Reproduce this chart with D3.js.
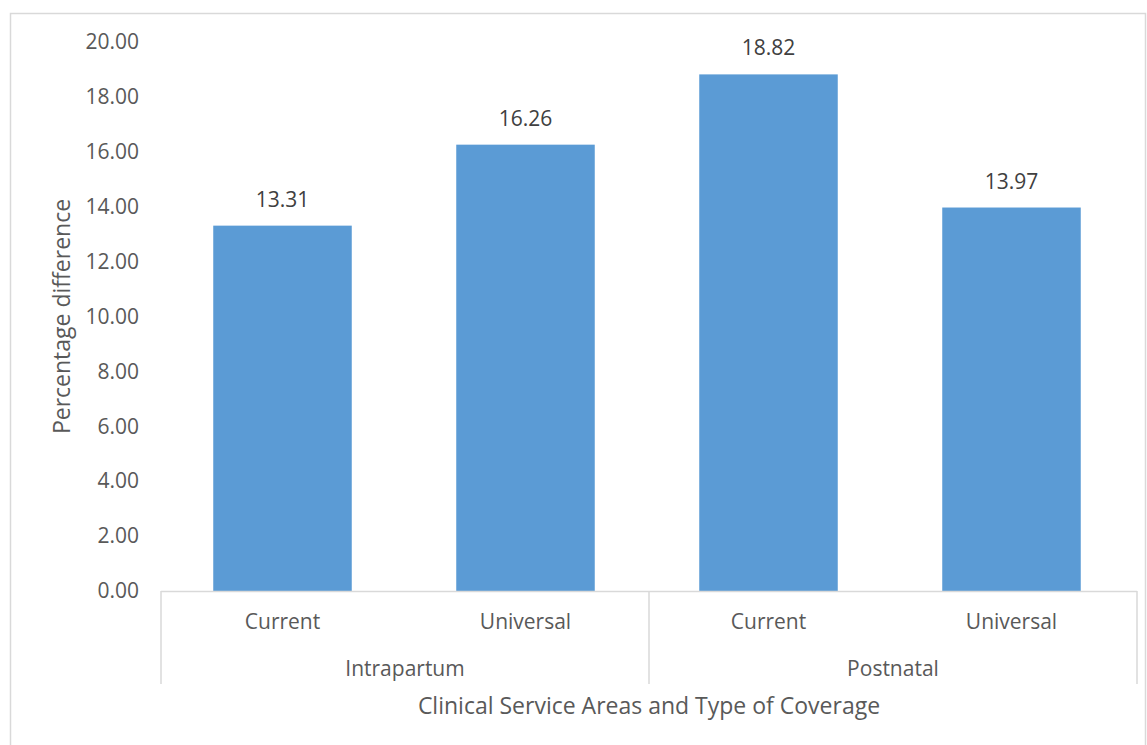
<!DOCTYPE html>
<html>
<head>
<meta charset="utf-8">
<script src="https://cdn.jsdelivr.net/npm/d3@7"></script>
<style>
  body { margin: 0; background: #fff; }
  svg text { font-family: "Open Sans", "Noto Sans", sans-serif; fill: #595959; }
</style>
</head>
<body>
<svg id="chart" width="1147" height="745"></svg>
<script>
// Percentage difference by clinical service area and coverage type
const groups = ["Intrapartum", "Postnatal"];
const coverage = ["Current", "Universal"];
const values = [13.31, 16.26, 18.82, 13.97];
const yTicks = [0, 2, 4, 6, 8, 10, 12, 14, 16, 18, 20];

const rows = [];
groups.forEach((g, gi) => coverage.forEach((c, ci) => {
  rows.push({ key: g + "|" + c, group: g, coverage: c, value: values[gi * coverage.length + ci] });
}));

const svg = d3.select("#chart");
const W = 1147, H = 745;
const plotL = 161, plotR = 1137, plotT = 42, plotB = 591;

// outer chart border
svg.append("rect")
  .attr("x", 10.5).attr("y", 13.5)
  .attr("width", W - 12).attr("height", H)
  .attr("fill", "none").attr("stroke", "#d9d9d9").attr("stroke-width", 1.5);

const x = d3.scaleBand().domain(rows.map(d => d.key)).range([plotL, plotR - 4]).paddingInner(0.43).paddingOuter(0.215);
const y = d3.scaleLinear().domain([0, 20]).range([plotB, plotT]);

// y axis labels
const yAxis = d3.axisLeft(y).tickValues(yTicks).tickFormat(d3.format(".2f")).tickSize(0).tickPadding(22);
const ya = svg.append("g").attr("transform", `translate(${plotL},0)`).call(yAxis);
ya.select(".domain").remove();
ya.selectAll("text").style("font-size", "21px").attr("fill", "#595959");

// bars
svg.append("g").selectAll("rect").data(rows).join("rect")
  .attr("x", d => x(d.key)).attr("width", x.bandwidth())
  .attr("y", d => y(d.value)).attr("height", d => y(0) - y(d.value))
  .attr("fill", "#5b9bd5");

// value labels
svg.append("g").selectAll("text").data(rows).join("text")
  .attr("x", d => x(d.key) + x.bandwidth() / 2)
  .attr("y", d => y(d.value) - 19)
  .attr("text-anchor", "middle")
  .style("font-size", "21px").style("fill", "#404040")
  .text(d => d.value.toFixed(2));

// category axis: baseline, separators, two-level labels
const axisG = svg.append("g");
axisG.append("line").attr("x1", plotL).attr("x2", plotR).attr("y1", plotB + 0.5).attr("y2", plotB + 0.5)
  .attr("stroke", "#d9d9d9").attr("stroke-width", 1.5);
const groupW = (plotR - plotL) / groups.length;
const groupEdges = d3.range(groups.length + 1).map(i => plotL + i * groupW);
groupEdges.forEach(gx => {
  axisG.append("line").attr("x1", gx).attr("x2", gx).attr("y1", plotB).attr("y2", 684)
    .attr("stroke", "#d9d9d9").attr("stroke-width", 1.5);
});
axisG.selectAll("text.sub").data(rows).join("text").attr("class", "sub")
  .attr("x", d => x(d.key) + x.bandwidth() / 2).attr("y", 629)
  .attr("text-anchor", "middle").style("font-size", "21px")
  .text(d => d.coverage);
axisG.selectAll("text.grp").data(groups).join("text").attr("class", "grp")
  .attr("x", (d, i) => (groupEdges[i] + groupEdges[i + 1]) / 2).attr("y", 676)
  .attr("text-anchor", "middle").style("font-size", "21px")
  .text(d => d);

// axis titles
svg.append("text").attr("x", (plotL + plotR) / 2).attr("y", 714)
  .attr("text-anchor", "middle").style("font-size", "23px")
  .text("Clinical Service Areas and Type of Coverage");
svg.append("text").attr("transform", `translate(70,${(plotT + plotB) / 2}) rotate(-90)`)
  .attr("text-anchor", "middle").style("font-size", "23px")
  .text("Percentage difference");
</script>
</body>
</html>
